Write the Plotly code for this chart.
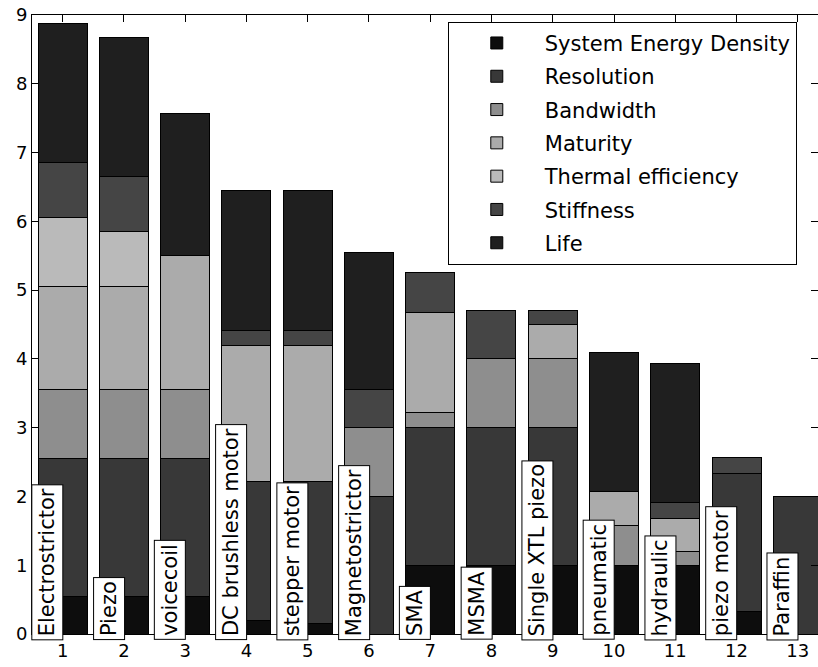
import plotly.graph_objects as go

categories = ["Electrostrictor", "Piezo", "voicecoil", "DC brushless motor", "stepper motor",
              "Magnetostrictor", "SMA", "MSMA", "Single XTL piezo", "pneumatic",
              "hydraulic", "piezo motor", "Paraffin"]
positions = list(range(1, 14))

system_energy_density = [0.55, 0.55, 0.55, 0.20, 0.15, 0.00, 1.00, 1.00, 1.00, 1.00, 1.00, 0.32, 0.00]
resolution            = [2.00, 2.00, 2.00, 2.02, 2.07, 2.00, 2.00, 2.00, 2.00, 0.00, 0.00, 2.02, 2.00]
bandwidth             = [1.00, 1.00, 1.00, 0.00, 0.00, 1.00, 0.22, 1.00, 1.00, 0.58, 0.20, 0.00, 0.00]
maturity              = [1.50, 1.50, 1.95, 1.98, 1.98, 0.00, 1.46, 0.00, 0.50, 0.49, 0.48, 0.00, 0.00]
thermal_efficiency    = [1.00, 0.80, 0.00, 0.00, 0.00, 0.00, 0.00, 0.00, 0.00, 0.00, 0.00, 0.00, 0.00]
stiffness             = [0.80, 0.80, 0.00, 0.22, 0.22, 0.55, 0.57, 0.70, 0.20, 0.00, 0.23, 0.22, 0.00]
life                  = [2.03, 2.03, 2.07, 2.03, 2.03, 1.99, 0.00, 0.00, 0.00, 2.03, 2.02, 0.00, 0.00]

series = [
    ("System Energy Density", system_energy_density, "#0d0d0d"),
    ("Resolution", resolution, "#383838"),
    ("Bandwidth", bandwidth, "#8e8e8e"),
    ("Maturity", maturity, "#ababab"),
    ("Thermal efficiency", thermal_efficiency, "#bababa"),
    ("Stiffness", stiffness, "#454545"),
    ("Life", life, "#1f1f1f"),
]

FONT = "DejaVu Sans"

fig = go.Figure()
for name, vals, color in series:
    fig.add_trace(go.Bar(
        x=positions, y=vals, name=name, width=0.8, legendgroup=name,
        marker=dict(color=color, line=dict(color="black", width=1)),
    ))

for pos, label in zip(positions, categories):
    fig.add_annotation(
        x=pos - 0.25, y=0, xref="x", yref="y",
        text=label, showarrow=False, textangle=-90,
        xanchor="center", yanchor="bottom", yshift=-6,
        bgcolor="white", bordercolor="black", borderwidth=1, borderpad=3,
        font=dict(family=FONT, size=21, color="black"),
    )

fig.update_layout(
    width=818, height=667,
    margin=dict(l=32, r=0, t=15, b=33, pad=0),
    barmode="stack", bargap=0.2,
    paper_bgcolor="white", plot_bgcolor="white",
    font=dict(family=FONT, size=18, color="black"),
    showlegend=True,
    legend=dict(
        x=0.529, y=0.989, xanchor="left", yanchor="top",
        traceorder="grouped", tracegroupgap=3, bgcolor="white",
        bordercolor="black", borderwidth=1,
        font=dict(family=FONT, size=21, color="black"),
        itemwidth=86,
    ),
    xaxis=dict(
        range=[0.5, 13.33], tickmode="array", tickvals=positions,
        ticktext=[str(p) for p in positions],
        ticks="inside", ticklen=7, tickcolor="black",
        showline=True, linecolor="black", linewidth=1, mirror="ticks",
        showgrid=False, zeroline=False, automargin=False,
        ticklabeloverflow="allow",
        tickfont=dict(family=FONT, size=18),
    ),
    yaxis=dict(
        range=[0, 9], tickmode="linear", tick0=0, dtick=1,
        ticks="inside", ticklen=7, tickcolor="black",
        showline=True, linecolor="black", linewidth=1, mirror="ticks",
        showgrid=False, zeroline=False, automargin=False,
        ticklabeloverflow="allow",
        tickfont=dict(family=FONT, size=18),
    ),
)

# remove the default page margin so the 818x667 figure fills the window exactly
fig.write_html("out.html", config={"displayModeBar": False},
               post_script="document.body.style.margin='0px';")
